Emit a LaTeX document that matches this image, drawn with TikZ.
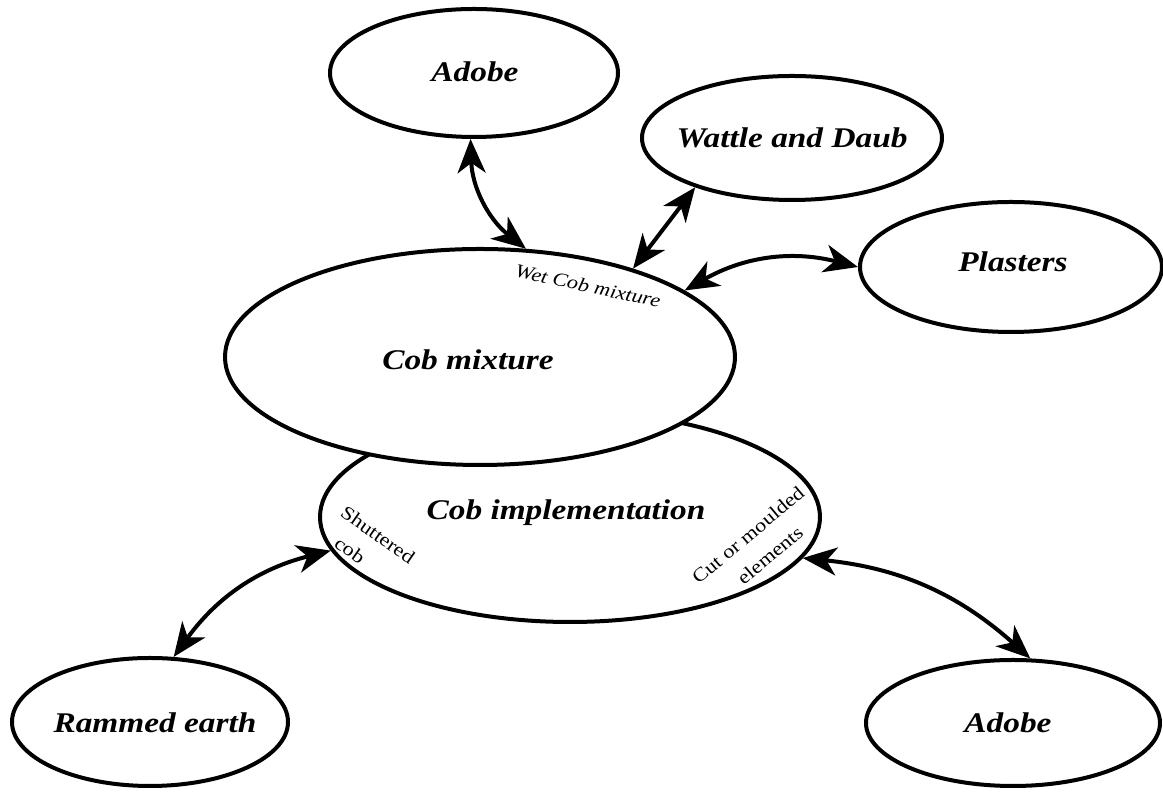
\documentclass[tikz,border=0pt]{standalone}
\usepackage{fontspec}
\setmainfont{Liberation Serif}
\newfontfamily\lblfont[FakeStretch=1.17]{Liberation Serif}
\usetikzlibrary{shapes.geometric,arrows.meta}
\tikzset{
  bigtip/.tip={Stealth[length=34pt,width=28pt,inset=10pt]},
  link/.style={line width=4pt,bigtip-bigtip}
}
\begin{document}
\begin{tikzpicture}[x=1pt,y=1pt,
  ell/.style={draw,ellipse,line width=4pt,fill=white,inner sep=0pt},
  big/.style={font=\lblfont\bfseries\itshape\fontsize{28.5}{32}\selectfont,inner sep=0pt},
  small/.style={font=\lblfont\fontsize{19}{27}\selectfont,inner sep=0pt}
]
\useasboundingbox (0,0) rectangle (1163,794);
% ellipses
\node[ell,minimum width=500pt,minimum height=210pt] (impl) at (570,277) {};
\node[ell,minimum width=510pt,minimum height=216pt] (mix) at (480,437) {};
\node[ell,minimum width=288pt,minimum height=128pt] (adT) at (474,721) {};
\node[ell,minimum width=300pt,minimum height=124pt] (wat) at (792,656) {};
\node[ell,minimum width=302pt,minimum height=130pt] (pla) at (1011,527) {};
\node[ell,minimum width=276pt,minimum height=128pt] (ram) at (150,72) {};
\node[ell,minimum width=294pt,minimum height=126pt] (adB) at (1013,71) {};
% main labels
\node[big] (implt) at (566,281) {Cob implementation};
\node[big] (mixt) at (468,434) {Cob mixture};
\node[big] (adTt) at (475,722) {Adobe};
\node[big] (watt) at (792,656) {Wattle and Daub};
\node[big] (plat) at (1013,532) {Plasters};
\node[big] (ramt) at (155,71) {Rammed earth};
\node[big] (adBt) at (1008,71) {Adobe};
% small labels
\node[small,font=\lblfont\itshape\fontsize{19}{24}\selectfont,rotate=-12] (wet) at (588,508) {Wet Cob mixture};
\node[small,rotate=-35] (shut1) at (378,259) {Shuttered};
\node[small,rotate=-35] (shut2) at (350,244) {cob};
\node[small,rotate=40] (cut1) at (748,259) {Cut or moulded};
\node[small,rotate=40] (cut2) at (770,239) {elements};
% connectors
\draw[link] (adT.-93) to[bend right=25] (mix.67.5);
\draw[link] (wat.-153) -- (mix.30);
\draw[link] (mix.18) to[bend left=22] (pla.180);
\draw[link] (impl.-172) to[bend right=20] (ram.70);
\draw[link] (impl.-10) to[bend left=18] (adB.75);
\end{tikzpicture}
\end{document}
